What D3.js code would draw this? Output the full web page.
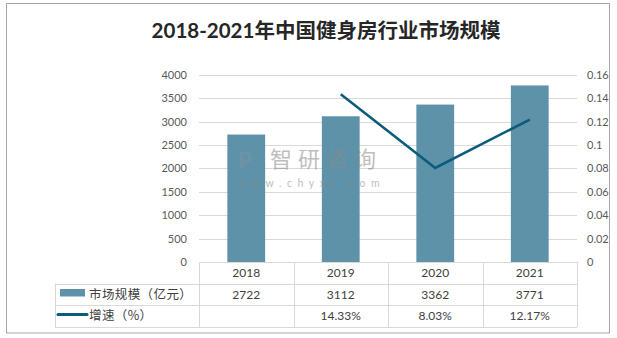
<!DOCTYPE html>
<html><head><meta charset="utf-8">
<script src="https://cdn.jsdelivr.net/npm/d3@7/dist/d3.min.js"></script>
<style>body{margin:0;background:#fff}svg{display:block}</style>
</head><body>
<script>
const title = "2018-2021年中国健身房行业市场规模";
const years = ["2018","2019","2020","2021"];
const marketSize = [2722, 3112, 3362, 3771];
const growth = [null, 0.1433, 0.0803, 0.1217];
const growthLabels = ["", "14.33%", "8.03%", "12.17%"];
const leftTicks = [0,500,1000,1500,2000,2500,3000,3500,4000];
const rightTicks = [0,0.02,0.04,0.06,0.08,0.1,0.12,0.14,0.16];
const seriesNames = ["市场规模（亿元）", "增速（%）"];

const W = 617, H = 338;
const svg = d3.select("body").append("svg").attr("width", W).attr("height", H);
const font = "Lato, 'Noto Sans CJK SC', sans-serif";
const barColor = "#5e92a9", lineColor = "#0b5c7b", gridColor = "#d9d9d9", textColor = "#595959";

svg.append("rect").attr("x", 6.5).attr("y", 3.5).attr("width", 603).attr("height", 329.5)
  .attr("fill", "#fff").attr("stroke", "#a6a6a6").attr("stroke-width", 1);

svg.append("text").attr("x", 326).attr("y", 38).attr("text-anchor", "middle")
  .attr("font-family", font).attr("font-weight", "bold").attr("font-size", 20.5)
  .attr("fill", "#262626").text(title);

const x = d3.scaleBand().domain(years).range([199, 577]).padding(0);
const y = d3.scaleLinear().domain([0, 4000]).range([262, 74.7]);
const y2 = d3.scaleLinear().domain([0, 0.16]).range([262, 74.7]);

// gridlines
svg.append("g").selectAll("line").data(leftTicks.slice(1)).join("line")
  .attr("x1", 199).attr("x2", 577).attr("y1", d => Math.round(y(d)) + 0.5).attr("y2", d => Math.round(y(d)) + 0.5)
  .attr("stroke", gridColor).attr("stroke-width", 1);

// left axis
const gl = svg.append("g").attr("transform", "translate(199,0)")
  .call(d3.axisLeft(y).tickValues(leftTicks).tickSize(0).tickPadding(12).tickFormat(d3.format("d")));
gl.select(".domain").remove();
gl.selectAll("text").attr("font-family", font).attr("font-size", 11).attr("fill", textColor);

// right axis
const gr = svg.append("g").attr("transform", "translate(577,0)")
  .call(d3.axisRight(y2).tickValues(rightTicks).tickSize(0).tickPadding(10)
    .tickFormat(d => d === 0 ? "0" : String(+d.toFixed(2))));
gr.select(".domain").remove();
gr.selectAll("text").attr("font-family", font).attr("font-size", 11).attr("fill", textColor);

// bars
const bw = x.bandwidth() * 0.4;
svg.append("g").selectAll("rect").data(years).join("rect")
  .attr("x", (d) => x(d) + (x.bandwidth() - bw) / 2)
  .attr("width", bw)
  .attr("y", (d, i) => y(marketSize[i]))
  .attr("height", (d, i) => y(0) - y(marketSize[i]))
  .attr("fill", barColor);

// watermark (faint, over bars)
const wm = svg.append("g").attr("opacity", 0.55);
wm.append("text").attr("x", 238).attr("y", 169).attr("font-family", font).attr("font-size", 22)
  .attr("font-weight", "bold").attr("fill", "#7f93a6").text("P");
wm.append("text").attr("x", 270).attr("y", 167).attr("font-family", "'Noto Sans CJK SC'").attr("font-size", 22)
  .attr("letter-spacing", 6).attr("fill", "#8a8a8a").text("智研咨询");
wm.append("text").attr("x", 238).attr("y", 187).attr("font-family", font).attr("font-size", 10.5)
  .attr("letter-spacing", 5.5).attr("fill", "#8a8a8a").text("www.chyxx.com");

// line
const line = d3.line().defined(d => d[1] != null)
  .x(d => x(d[0]) + x.bandwidth() / 2).y(d => y2(d[1]));
svg.append("path").datum(years.map((d, i) => [d, growth[i]]))
  .attr("d", line).attr("fill", "none").attr("stroke", lineColor).attr("stroke-width", 2.6);

// data table
const rowY = [262, 283.5, 305, 326.5];
const tg = svg.append("g").attr("stroke", gridColor).attr("stroke-width", 1);
tg.append("line").attr("x1", 199).attr("x2", 577).attr("y1", 262.5).attr("y2", 262.5);
[283.5, 305, 326.5].forEach(v => tg.append("line").attr("x1", 55).attr("x2", 577).attr("y1", Math.round(v) + 0.5).attr("y2", Math.round(v) + 0.5));
tg.append("line").attr("x1", 55.5).attr("x2", 55.5).attr("y1", 283.5).attr("y2", 327);
const colEdges = years.map(d => x(d)).concat([x.range()[1]]);
colEdges.forEach(v => tg.append("line").attr("x1", Math.round(v) + 0.5).attr("x2", Math.round(v) + 0.5).attr("y1", 262).attr("y2", 327));

const tt = svg.append("g").attr("font-family", font).attr("font-size", 12).attr("fill", "#404040").attr("text-anchor", "middle");
years.forEach((d, i) => {
  const cx = x(d) + x.bandwidth() / 2;
  tt.append("text").attr("x", cx).attr("y", (rowY[0] + rowY[1]) / 2 + 4.3).text(d);
  tt.append("text").attr("x", cx).attr("y", (rowY[1] + rowY[2]) / 2 + 4.3).text(String(marketSize[i]));
  tt.append("text").attr("x", cx).attr("y", (rowY[2] + rowY[3]) / 2 + 4.3).text(growthLabels[i]);
});

// legend keys
svg.append("rect").attr("x", 60).attr("y", 289).attr("width", 25).attr("height", 7.5).attr("fill", barColor);
svg.append("line").attr("x1", 58).attr("x2", 87).attr("y1", 314.5).attr("y2", 314.5)
  .attr("stroke", lineColor).attr("stroke-width", 3).attr("stroke-linecap", "round");
const lt = svg.append("g").attr("font-family", "'Noto Sans CJK SC'").attr("font-size", 12.5).attr("fill", "#404040");
lt.append("text").attr("x", 89).attr("y", (rowY[1] + rowY[2]) / 2 + 4.5).attr("letter-spacing", 0.4).text(seriesNames[0]);
lt.append("text").attr("x", 89).attr("y", (rowY[2] + rowY[3]) / 2 + 4.5).attr("letter-spacing", 0.4).text(seriesNames[1]);
</script>
</body></html>
